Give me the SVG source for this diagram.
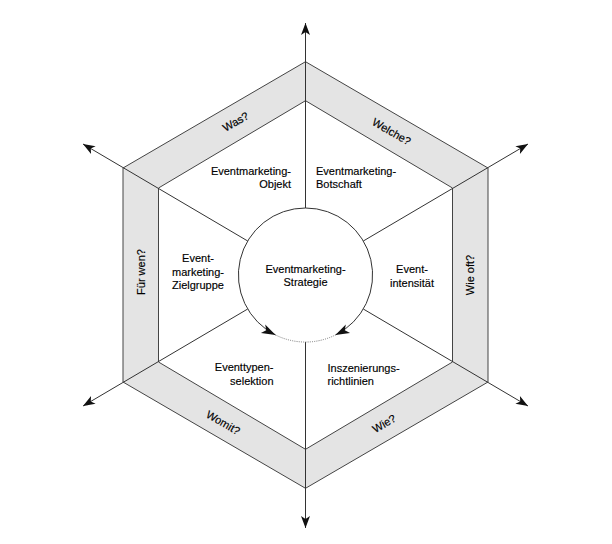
<svg xmlns="http://www.w3.org/2000/svg" width="612" height="544" viewBox="0 0 612 544">
<style>
text{font-family:"Liberation Sans",Arial,sans-serif;font-size:11px;fill:#000;stroke:#000;stroke-width:0.15}
.band{fill:#e4e4e4;fill-rule:evenodd;stroke:#444;stroke-width:1;stroke-linejoin:miter}
.ax{stroke:#333;stroke-width:1;fill:none}
.mid{text-anchor:middle}
.end{text-anchor:end}
</style>
<defs>
<marker id="ah" markerUnits="userSpaceOnUse" markerWidth="14" markerHeight="12" viewBox="-13 -6 14 12" refX="0" refY="0" orient="auto">
<path d="M0,0 L-12,-4.5 L-9,0 L-12,4.5 Z" fill="#111"/>
</marker>
<marker id="ahc" markerUnits="userSpaceOnUse" markerWidth="16" markerHeight="12" viewBox="-15 -6 16 12" refX="0" refY="0" orient="auto">
<path d="M0,0 L-14,-4.8 L-10.5,0 L-14,4.8 Z" fill="#111"/>
</marker>
</defs>
<rect width="612" height="544" fill="#fff"/>
<g id="band">
<path class="band" d="M305.5,61.7 L488,168 L488,382 L305.5,488.3 L123,382 L123,168 Z M305.5,100.7 L452.5,188 L452.5,362 L305.5,449.3 L158.5,362 L158.5,188 Z"/>
</g>
<g id="connectors">
<line class="ax" x1="305.5" y1="208" x2="305.5" y2="23" marker-end="url(#ah)"/>
<line class="ax" x1="305.5" y1="342" x2="305.5" y2="528" marker-end="url(#ah)"/>
<line class="ax" x1="363.3" y1="241" x2="528" y2="144" marker-end="url(#ah)"/>
<line class="ax" x1="363.3" y1="309" x2="528" y2="406" marker-end="url(#ah)"/>
<line class="ax" x1="247.7" y1="241" x2="83" y2="144" marker-end="url(#ah)"/>
<line class="ax" x1="247.7" y1="309" x2="83" y2="406" marker-end="url(#ah)"/>
</g>
<g id="strategie">
<circle cx="305.5" cy="275" r="67" fill="#fff" stroke="none"/>
<path class="ax" d="M305.5,208 A67,67 0 0 0 275.6,335" marker-end="url(#ahc)"/>
<path class="ax" d="M305.5,208 A67,67 0 0 1 335.4,335" marker-end="url(#ahc)"/>
<path d="M275.6,335 A67,67 0 0 0 335.4,335" fill="none" stroke="#777" stroke-width="1" stroke-dasharray="1,1.2"/>
<text class="mid" x="305.5" y="273">Eventmarketing-</text>
<text class="mid" x="305.5" y="286">Strategie</text>
</g>
<g id="objekt">
<text class="end" x="291" y="175">Eventmarketing-</text>
<text class="end" x="291" y="188">Objekt</text>
</g>
<g id="botschaft">
<text x="316" y="175">Eventmarketing-</text>
<text x="316" y="188">Botschaft</text>
</g>
<g id="intensitaet">
<text class="mid" x="412" y="273">Event-</text>
<text class="mid" x="412" y="287">intensität</text>
</g>
<g id="zielgruppe">
<text class="mid" x="198" y="262">Event-</text>
<text class="mid" x="198" y="275.5">marketing-</text>
<text class="mid" x="198" y="289">Zielgruppe</text>
</g>
<g id="selektion">
<text class="end" x="273.5" y="371">Eventtypen-</text>
<text class="end" x="273.5" y="384.5">selektion</text>
</g>
<g id="inszenierung">
<text x="327.5" y="372">Inszenierungs-</text>
<text x="327.5" y="385">richtlinien</text>
</g>
<g id="was"><text class="mid" x="235.5" y="125.7" transform="rotate(-30 235.5 121.7)">Was?</text></g>
<g id="welche"><text class="mid" x="391.7" y="135.5" transform="rotate(30 391.7 131.5)">Welche?</text></g>
<g id="wieoft"><text class="mid" x="470" y="279" transform="rotate(-90 470 275)">Wie oft?</text></g>
<g id="wie"><text class="mid" x="384" y="427.5" transform="rotate(-30 384 423.5)">Wie?</text></g>
<g id="womit"><text class="mid" x="223.3" y="426.5" transform="rotate(30 223.3 422.5)">Womit?</text></g>
<g id="fuerwen"><text class="mid" x="141" y="276" transform="rotate(-90 141 272)">Für wen?</text></g>
</svg>
